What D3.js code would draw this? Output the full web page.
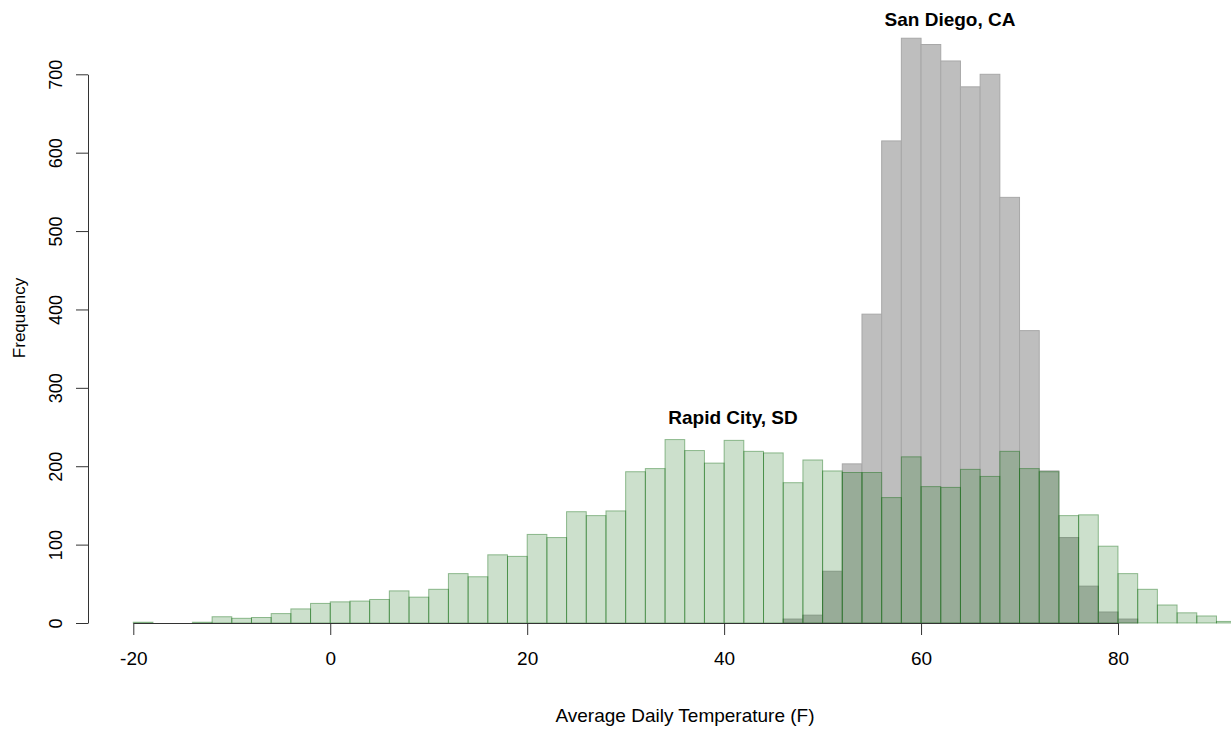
<!DOCTYPE html>
<html>
<head>
<meta charset="utf-8">
<script src="https://cdn.jsdelivr.net/npm/d3@7"></script>
<style>
  body { margin: 0; background: #fff; }
  svg { display: block; font-family: "Liberation Sans", Arial, sans-serif; }
  .axis path, .axis line { stroke: #333; }
  .axis text { font-size: 19px; fill: #000; font-family: "Liberation Sans", Arial, sans-serif; }
  .y_axis text { font-size: 18px; }
  .city { font-size: 19px; font-weight: bold; text-anchor: middle; }
  .ax_title { font-size: 19px; text-anchor: middle; }
  .y_title { font-size: 17px; text-anchor: middle; }
</style>
</head>
<body>
<div class="viz"></div>
<script>
// histogram bins are 2 degrees wide, values are counts per bin
const binWidth = 2;

// Rapid City, SD - bins starting at -20
const rapidStarts = d3.range(-20, 92, binWidth);
const rapidCounts = [1, 0, 0, 1, 8, 6, 7, 12, 18, 25,
                     27, 28, 30, 41, 33, 43, 63, 59, 87, 85,
                     113, 109, 142, 137, 143, 193, 197, 234, 220, 204,
                     233, 219, 217, 179, 208, 194, 192, 192, 160, 212,
                     174, 173, 196, 187, 219, 197, 193, 137, 138, 98,
                     63, 43, 23, 13, 9, 2];

// San Diego, CA - bins starting at 46
const sdStarts = d3.range(46, 82, binWidth);
const sdCounts = [5, 10, 66, 203, 394, 615, 746, 738, 717, 684,
                  700, 543, 373, 194, 109, 47, 14, 5];

const xTicks = [-20, 0, 20, 40, 60, 80];
const yTicks = [0, 100, 200, 300, 400, 500, 600, 700];

const width = 1231;
const height = 730;

const svg = d3.select('.viz')
    .append('svg')
    .attr('width', width)
    .attr('height', height);

/* SCALES */
var x = d3.scaleLinear()
    .domain([-20, 80])
    .range([133.3, 1118]);

var y = d3.scaleLinear()
    .domain([0, 700])
    .range([623, 74.3]);

const rapid = rapidStarts.map((s, i) => ({ lo: s, n: rapidCounts[i] }));
const sd = sdStarts.map((s, i) => ({ lo: s, n: sdCounts[i] }));

function drawBars(data, cls, fill, stroke) {
    svg.append("g")
        .selectAll("rect")
        .data(data)
        .enter()
        .append("rect")
        .attr("class", cls)
        .attr("x", d => x(d.lo))
        .attr("y", d => y(d.n))
        .attr("width", d => x(d.lo + binWidth) - x(d.lo))
        .attr("height", d => y(0) - y(d.n))
        .style("fill", fill)
        .style("stroke", stroke)
        .style("stroke-width", 1);
}

// San Diego first (opaque grey), Rapid City on top (transparent green)
drawBars(sd, "sd_bar", "#bebebe", "#a8a8a8");
drawBars(rapid, "rc_bar", "rgba(0,100,0,0.2)", "rgba(0,100,0,0.4)");

/* AXES */
svg.append("g")
    .attr("class", "axis")
    .attr("transform", "translate(0," + Math.floor(y(0)) + ")")
    .call(d3.axisBottom(x)
        .tickValues(xTicks)
        .tickFormat(d => String(d))   // plain hyphen like R
        .tickSize(12)
        .tickSizeOuter(0)
        .tickPadding(16.5));

svg.append("g")
    .attr("class", "axis y_axis")
    .attr("transform", "translate(88,0)")
    .call(d3.axisLeft(y)
        .tickValues(yTicks)
        .tickSize(12)
        .tickSizeOuter(0))
    .selectAll("text")
    .attr("transform", "rotate(-90)")
    .attr("x", 0)
    .attr("y", -26)
    .attr("dy", 0)
    .style("text-anchor", "middle");

/* LABELS */
svg.append("text")
    .attr("class", "ax_title")
    .attr("x", 685)
    .attr("y", 722)
    .text("Average Daily Temperature (F)");

svg.append("text")
    .attr("class", "y_title")
    .attr("transform", "translate(25,318) rotate(-90)")
    .text("Frequency");

svg.append("text")
    .attr("class", "city")
    .attr("x", 950)
    .attr("y", 26)
    .text("San Diego, CA");

svg.append("text")
    .attr("class", "city")
    .attr("x", 733)
    .attr("y", 424)
    .text("Rapid City, SD");
</script>
</body>
</html>
